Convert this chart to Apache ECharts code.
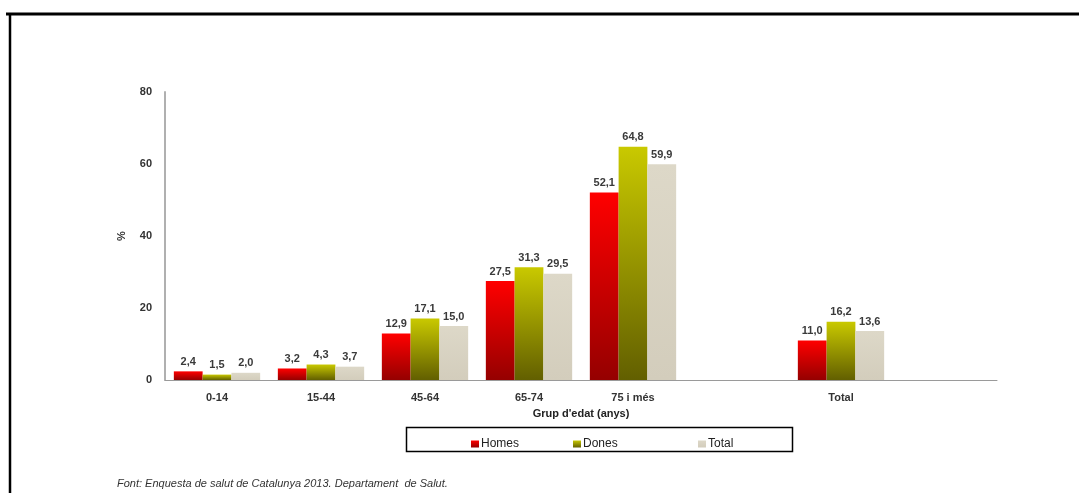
<!DOCTYPE html>
<html>
<head>
<meta charset="utf-8">
<script src="https://cdn.jsdelivr.net/npm/echarts@6/dist/echarts.min.js"></script>
<style>
html, body { margin: 0; padding: 0; background: #fff; }
#chart { width: 1079px; height: 493px; }
</style>
</head>
<body>
<div id="chart"></div>
<script>
// Age groups (blank slots keep the "Total" group apart)
const categories = ['0-14', '15-44', '45-64', '65-74', '75 i més', '', 'Total', ''];
const homes = [2.4, 3.2, 12.9, 27.5, 52.1, null, 11.0, null];
const dones = [1.5, 4.3, 17.1, 31.3, 64.8, null, 16.2, null];
const total = [2.0, 3.7, 15.0, 29.5, 59.9, null, 13.6, null];
const yTicks = [0, 20, 40, 60, 80];

const FONT = '"Liberation Sans", Arial, sans-serif';

function grad(top, bottom) {
  return new echarts.graphic.LinearGradient(0, 0, 0, 1, [
    { offset: 0, color: top },
    { offset: 1, color: bottom }
  ]);
}

const labelCfg = {
  show: true,
  position: 'top',
  distance: 4,
  fontFamily: FONT,
  fontSize: 11,
  fontWeight: 'bold',
  color: '#3a3a3a',
  formatter: p => (p.value == null ? '' : Number(p.value).toFixed(1).replace('.', ','))
};

function bar(name, data, top, bottom) {
  return {
    name: name,
    type: 'bar',
    data: data,
    barGap: '0%',
    barCategoryGap: '17%',
    itemStyle: { color: grad(top, bottom) },
    label: labelCfg
  };
}

const chart = echarts.init(document.getElementById('chart'));

function legendAt(left, name) {
  return {
    left: left,
    top: 433,
    data: [name],
    icon: 'rect',
    itemWidth: 8,
    itemHeight: 7,
    itemGap: 0,
    selectedMode: false,
    textStyle: { fontFamily: FONT, fontSize: 12, color: '#222', padding: [0, 0, 0, -3] }
  };
}

chart.setOption({
  animation: false,
  backgroundColor: '#fff',
  grid: { left: 165, right: 82, top: 92, bottom: 113 },
  xAxis: {
    type: 'category',
    data: categories,
    name: "Grup d'edat (anys)",
    nameLocation: 'middle',
    nameGap: 28,
    nameTextStyle: { fontFamily: FONT, fontSize: 11, fontWeight: 'bold', color: '#222' },
    axisLine: { lineStyle: { color: '#9a9a9a', width: 1 } },
    axisTick: { show: false },
    axisLabel: { fontFamily: FONT, fontSize: 11, fontWeight: 'bold', color: '#333', margin: 12 }
  },
  yAxis: {
    type: 'value',
    min: yTicks[0],
    max: yTicks[yTicks.length - 1],
    interval: 20,
    name: '%',
    nameLocation: 'middle',
    nameGap: 38,
    nameRotate: 90,
    nameTextStyle: { fontFamily: FONT, fontSize: 11, fontWeight: 'bold', color: '#333' },
    axisLine: { show: true, lineStyle: { color: '#b0b0b0', width: 2 } },
    axisTick: { show: false },
    splitLine: { show: false },
    axisLabel: { fontFamily: FONT, fontSize: 11, fontWeight: 'bold', color: '#333', margin: 13 }
  },
  legend: [
    legendAt(466, 'Homes'),
    legendAt(568, 'Dones'),
    legendAt(693, 'Total')
  ],
  series: [
    bar('Homes', homes, '#ff0000', '#950000'),
    bar('Dones', dones, '#c9c900', '#625f00'),
    bar('Total', total, '#ddd8c8', '#d3cdbc')
  ],
  graphic: [
    // page frame
    { type: 'line', shape: { x1: 6, y1: 14, x2: 1079, y2: 14 }, style: { stroke: '#000', lineWidth: 3 } },
    { type: 'line', shape: { x1: 10, y1: 13, x2: 10, y2: 493 }, style: { stroke: '#000', lineWidth: 2.5 } },
    // legend box
    { type: 'rect', shape: { x: 406.5, y: 427.5, width: 386, height: 24 }, style: { fill: 'none', stroke: '#000', lineWidth: 1.5 } },
    // source note
    {
      type: 'text', left: 117, top: 478,
      style: {
        text: 'Font: Enquesta de salut de Catalunya 2013. Departament  de Salut.',
        font: 'italic 11px "Liberation Sans", Arial, sans-serif',
        fill: '#333'
      }
    }
  ]
});
</script>
</body>
</html>
